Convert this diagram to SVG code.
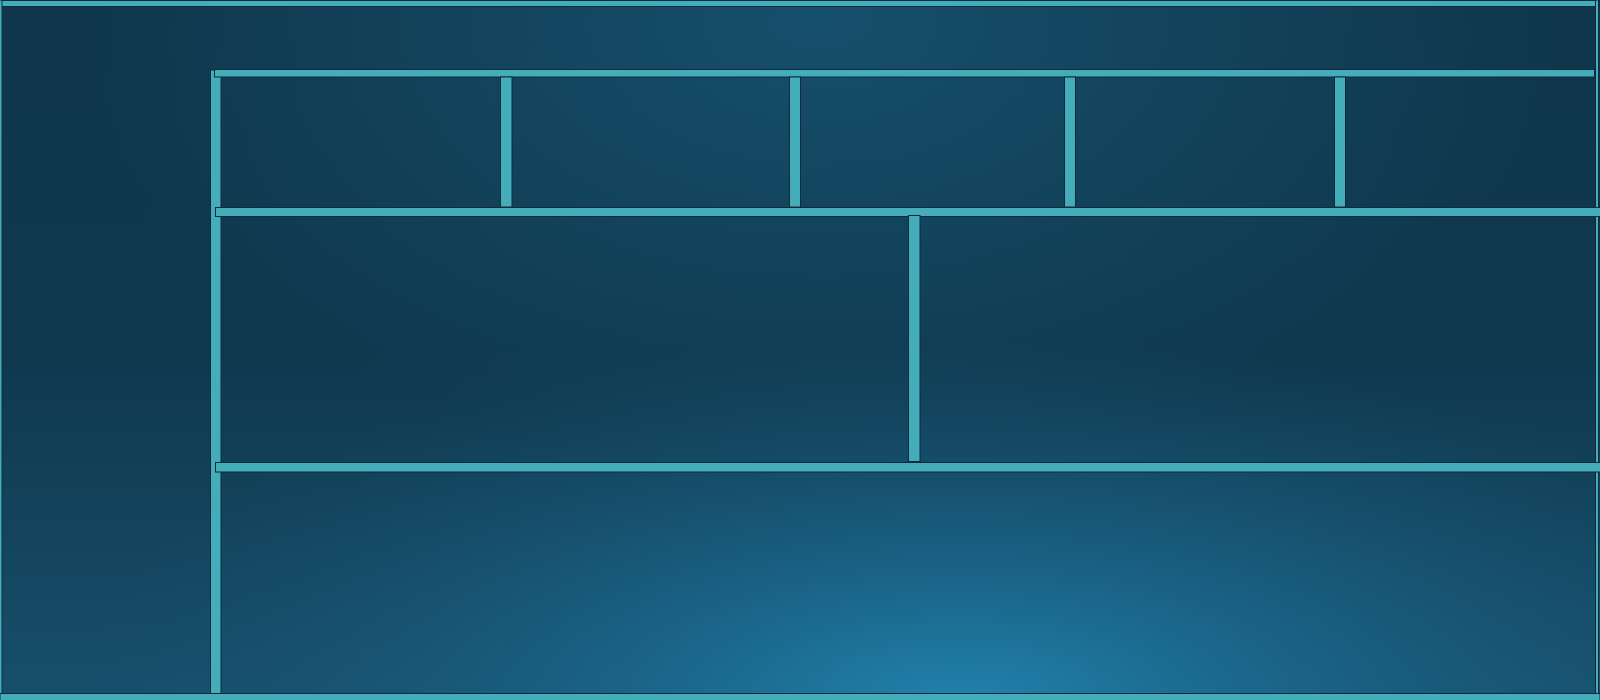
<svg xmlns="http://www.w3.org/2000/svg" width="1600" height="700" viewBox="0 0 1600 700">
<defs>
<linearGradient id="base" x1="0" y1="0" x2="0" y2="700" gradientUnits="userSpaceOnUse">
<stop offset="0" stop-color="#0f364b"/>
<stop offset="0.5" stop-color="#0f384e"/>
<stop offset="1" stop-color="#184f6c"/>
</linearGradient>
<radialGradient id="glowB" cx="960" cy="700" r="900" gradientUnits="userSpaceOnUse" gradientTransform="translate(960 700) scale(1 0.4) translate(-960 -700)">
<stop offset="0" stop-color="#2182ad"/>
<stop offset="0.45" stop-color="#1a6488" stop-opacity="0.75"/>
<stop offset="1" stop-color="#174f6c" stop-opacity="0"/>
</radialGradient>
<radialGradient id="glowT" cx="820" cy="20" r="750" gradientUnits="userSpaceOnUse" gradientTransform="translate(820 20) scale(1 0.6) translate(-820 -20)">
<stop offset="0" stop-color="#164f6c"/>
<stop offset="1" stop-color="#164f6c" stop-opacity="0"/>
</radialGradient>
<style>
.bar{fill:#45adba;stroke:#0c2c3c;stroke-width:1}
</style>
</defs>
<rect width="1600" height="700" fill="url(#base)"/>
<rect width="1600" height="700" fill="url(#glowT)"/>
<rect width="1600" height="700" fill="url(#glowB)"/>
<g id="walls">
<rect class="bar" x="0.5" y="0.5" width="1599" height="6"/>
<rect class="bar" x="-1" y="0" width="3" height="700"/>
<rect class="bar" x="1595.5" y="0" width="3" height="700"/>
<rect class="bar" x="0" y="693.5" width="1600" height="7"/>
<rect class="bar" x="210.5" y="70" width="10.5" height="623.5"/>
<rect class="bar" x="214.5" y="69.5" width="1380" height="7.5"/>
<rect class="bar" x="215.5" y="207.5" width="1385" height="9"/>
<rect class="bar" x="215.5" y="462.5" width="1385" height="9.5"/>
<rect class="bar" x="500.5" y="77" width="11.5" height="130"/>
<rect class="bar" x="789.5" y="77" width="11" height="130"/>
<rect class="bar" x="1064.5" y="77" width="11" height="130"/>
<rect class="bar" x="1334.5" y="77" width="11" height="130"/>
<rect class="bar" x="908.5" y="215.5" width="11.5" height="246"/>
</g>
</svg>
